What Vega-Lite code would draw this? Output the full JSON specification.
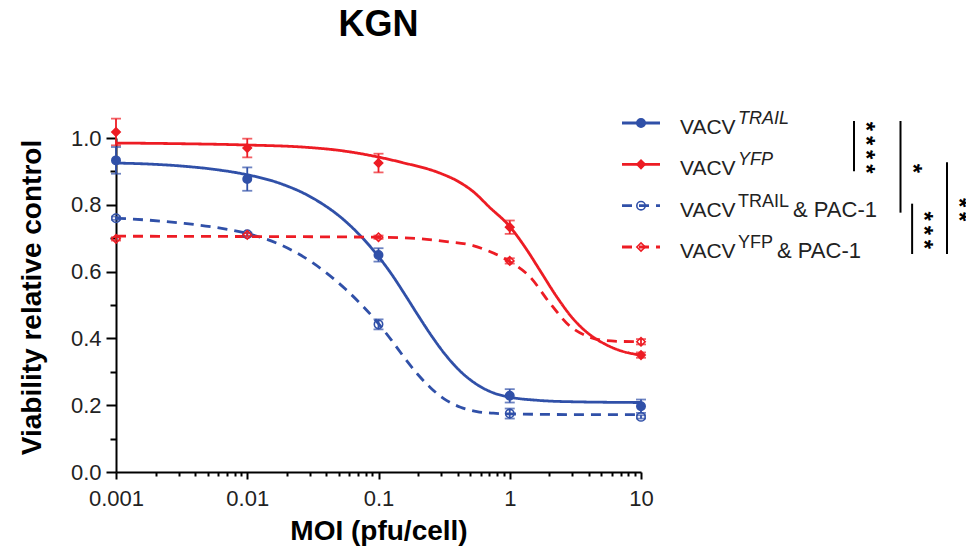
{
  "$schema": "https://vega.github.io/schema/vega-lite/v6.json",
  "width": 525,
  "height": 334,
  "autosize": {"type": "none"},
  "padding": {"left": 116, "top": 138, "right": 325, "bottom": 83},
  "background": "white",
  "title": {"text": "KGN", "fontSize": 36, "fontWeight": "bold", "color": "black", "anchor": "middle", "frame": "group", "offset": 66},
  "config": {
    "font": "Liberation Sans",
    "view": {"stroke": null},
    "legend": {"disable": true}
  },
  "datasets": {
    "points": [
      {"series": "VACV TRAIL", "moi": 0.001, "v": 0.933, "err": 0.04},
      {"series": "VACV TRAIL", "moi": 0.01, "v": 0.877, "err": 0.035},
      {"series": "VACV TRAIL", "moi": 0.1, "v": 0.650, "err": 0.02},
      {"series": "VACV TRAIL", "moi": 1, "v": 0.228, "err": 0.02},
      {"series": "VACV TRAIL", "moi": 10, "v": 0.197, "err": 0.02},
      {"series": "VACV YFP", "moi": 0.001, "v": 1.018, "err": 0.04},
      {"series": "VACV YFP", "moi": 0.01, "v": 0.970, "err": 0.028},
      {"series": "VACV YFP", "moi": 0.1, "v": 0.925, "err": 0.028},
      {"series": "VACV YFP", "moi": 1, "v": 0.733, "err": 0.02},
      {"series": "VACV YFP", "moi": 10, "v": 0.350, "err": 0.008},
      {"series": "VACV TRAIL & PAC-1", "moi": 0.001, "v": 0.760, "err": 0.005},
      {"series": "VACV TRAIL & PAC-1", "moi": 0.01, "v": 0.712, "err": 0.005},
      {"series": "VACV TRAIL & PAC-1", "moi": 0.1, "v": 0.442, "err": 0.015},
      {"series": "VACV TRAIL & PAC-1", "moi": 1, "v": 0.175, "err": 0.015},
      {"series": "VACV TRAIL & PAC-1", "moi": 10, "v": 0.165, "err": 0.005},
      {"series": "VACV YFP & PAC-1", "moi": 0.001, "v": 0.698, "err": 0.005},
      {"series": "VACV YFP & PAC-1", "moi": 0.01, "v": 0.710, "err": 0.005},
      {"series": "VACV YFP & PAC-1", "moi": 0.1, "v": 0.703, "err": 0.005},
      {"series": "VACV YFP & PAC-1", "moi": 1, "v": 0.632, "err": 0.008},
      {"series": "VACV YFP & PAC-1", "moi": 10, "v": 0.390, "err": 0.008}
    ],
    "curves": [
      {"series": "VACV TRAIL", "moi": 0.001, "v": 0.925},
      {"series": "VACV TRAIL", "moi": 0.001778, "v": 0.922},
      {"series": "VACV TRAIL", "moi": 0.003162, "v": 0.916},
      {"series": "VACV TRAIL", "moi": 0.005623, "v": 0.906},
      {"series": "VACV TRAIL", "moi": 0.01, "v": 0.890},
      {"series": "VACV TRAIL", "moi": 0.01778, "v": 0.864},
      {"series": "VACV TRAIL", "moi": 0.03162, "v": 0.820},
      {"series": "VACV TRAIL", "moi": 0.05623, "v": 0.750},
      {"series": "VACV TRAIL", "moi": 0.1, "v": 0.645},
      {"series": "VACV TRAIL", "moi": 0.1259, "v": 0.592},
      {"series": "VACV TRAIL", "moi": 0.1585, "v": 0.532},
      {"series": "VACV TRAIL", "moi": 0.1995, "v": 0.470},
      {"series": "VACV TRAIL", "moi": 0.2512, "v": 0.410},
      {"series": "VACV TRAIL", "moi": 0.3162, "v": 0.356},
      {"series": "VACV TRAIL", "moi": 0.4217, "v": 0.301},
      {"series": "VACV TRAIL", "moi": 0.5623, "v": 0.262},
      {"series": "VACV TRAIL", "moi": 0.7499, "v": 0.237},
      {"series": "VACV TRAIL", "moi": 1, "v": 0.224},
      {"series": "VACV TRAIL", "moi": 1.585, "v": 0.215},
      {"series": "VACV TRAIL", "moi": 2.512, "v": 0.211},
      {"series": "VACV TRAIL", "moi": 10, "v": 0.208},
      {"series": "VACV TRAIL & PAC-1", "moi": 0.001, "v": 0.760},
      {"series": "VACV TRAIL & PAC-1", "moi": 0.001778, "v": 0.754},
      {"series": "VACV TRAIL & PAC-1", "moi": 0.003162, "v": 0.745},
      {"series": "VACV TRAIL & PAC-1", "moi": 0.005623, "v": 0.733},
      {"series": "VACV TRAIL & PAC-1", "moi": 0.01, "v": 0.714},
      {"series": "VACV TRAIL & PAC-1", "moi": 0.01778, "v": 0.681},
      {"series": "VACV TRAIL & PAC-1", "moi": 0.03162, "v": 0.626},
      {"series": "VACV TRAIL & PAC-1", "moi": 0.05623, "v": 0.547},
      {"series": "VACV TRAIL & PAC-1", "moi": 0.1, "v": 0.444},
      {"series": "VACV TRAIL & PAC-1", "moi": 0.1259, "v": 0.394},
      {"series": "VACV TRAIL & PAC-1", "moi": 0.1585, "v": 0.341},
      {"series": "VACV TRAIL & PAC-1", "moi": 0.1995, "v": 0.292},
      {"series": "VACV TRAIL & PAC-1", "moi": 0.2512, "v": 0.251},
      {"series": "VACV TRAIL & PAC-1", "moi": 0.3162, "v": 0.219},
      {"series": "VACV TRAIL & PAC-1", "moi": 0.4217, "v": 0.194},
      {"series": "VACV TRAIL & PAC-1", "moi": 0.5623, "v": 0.181},
      {"series": "VACV TRAIL & PAC-1", "moi": 0.7499, "v": 0.176},
      {"series": "VACV TRAIL & PAC-1", "moi": 1, "v": 0.174},
      {"series": "VACV TRAIL & PAC-1", "moi": 3.162, "v": 0.172},
      {"series": "VACV TRAIL & PAC-1", "moi": 10, "v": 0.172},
      {"series": "VACV YFP", "moi": 0.001, "v": 0.985},
      {"series": "VACV YFP", "moi": 0.003, "v": 0.983},
      {"series": "VACV YFP", "moi": 0.01, "v": 0.979},
      {"series": "VACV YFP", "moi": 0.0285, "v": 0.972},
      {"series": "VACV YFP", "moi": 0.05, "v": 0.963},
      {"series": "VACV YFP", "moi": 0.0914, "v": 0.946},
      {"series": "VACV YFP", "moi": 0.15, "v": 0.927},
      {"series": "VACV YFP", "moi": 0.293, "v": 0.895},
      {"series": "VACV YFP", "moi": 0.4, "v": 0.871},
      {"series": "VACV YFP", "moi": 0.525, "v": 0.84},
      {"series": "VACV YFP", "moi": 0.7, "v": 0.793},
      {"series": "VACV YFP", "moi": 1, "v": 0.735},
      {"series": "VACV YFP", "moi": 1.34, "v": 0.667},
      {"series": "VACV YFP", "moi": 1.69, "v": 0.605},
      {"series": "VACV YFP", "moi": 2.26, "v": 0.527},
      {"series": "VACV YFP", "moi": 3.02, "v": 0.46},
      {"series": "VACV YFP", "moi": 4.05, "v": 0.412},
      {"series": "VACV YFP", "moi": 5.2, "v": 0.385},
      {"series": "VACV YFP", "moi": 7, "v": 0.363},
      {"series": "VACV YFP", "moi": 10, "v": 0.35},
      {"series": "VACV YFP & PAC-1", "moi": 0.001, "v": 0.706},
      {"series": "VACV YFP & PAC-1", "moi": 0.01, "v": 0.705},
      {"series": "VACV YFP & PAC-1", "moi": 0.1, "v": 0.703},
      {"series": "VACV YFP & PAC-1", "moi": 0.2, "v": 0.699},
      {"series": "VACV YFP & PAC-1", "moi": 0.33, "v": 0.69},
      {"series": "VACV YFP & PAC-1", "moi": 0.525, "v": 0.678},
      {"series": "VACV YFP & PAC-1", "moi": 0.664, "v": 0.664},
      {"series": "VACV YFP & PAC-1", "moi": 0.837, "v": 0.647},
      {"series": "VACV YFP & PAC-1", "moi": 1, "v": 0.630},
      {"series": "VACV YFP & PAC-1", "moi": 1.42, "v": 0.585},
      {"series": "VACV YFP & PAC-1", "moi": 2.01, "v": 0.507},
      {"series": "VACV YFP & PAC-1", "moi": 2.85, "v": 0.438},
      {"series": "VACV YFP & PAC-1", "moi": 4.05, "v": 0.404},
      {"series": "VACV YFP & PAC-1", "moi": 5.2, "v": 0.394},
      {"series": "VACV YFP & PAC-1", "moi": 7, "v": 0.391},
      {"series": "VACV YFP & PAC-1", "moi": 10, "v": 0.39}
    ],
    "legendRows": [
      {"row": 1, "series": "VACV TRAIL", "main": "VACV", "sup": "TRAIL", "suffix": ""},
      {"row": 2, "series": "VACV YFP", "main": "VACV", "sup": "YFP", "suffix": ""},
      {"row": 3, "series": "VACV TRAIL & PAC-1", "main": "VACV", "sup": "TRAIL", "suffix": "& PAC-1"},
      {"row": 4, "series": "VACV YFP & PAC-1", "main": "VACV", "sup": "YFP", "suffix": "& PAC-1"}
    ],
    "brackets": [
      {"id": "b1", "from": 1, "to": 2, "mid": 1.5, "stars": "*\u2009*\u2009*\u2009*"},
      {"id": "b2", "from": 1, "to": 3, "mid": 2, "stars": "*"},
      {"id": "b3", "from": 3, "to": 4, "mid": 3.5, "stars": "*\u2009*\u2009*"},
      {"id": "b4", "from": 2, "to": 4, "mid": 3, "stars": "*\u2009*"}
    ]
  },
  "layer": [
    {
      "encoding": {
        "x": {"field": "moi", "type": "quantitative",
          "scale": {"type": "log", "domain": [0.001, 10], "nice": false},
          "axis": {"values": [0.001, 0.01, 0.1, 1, 10], "format": "~g", "title": "MOI (pfu/cell)", "grid": false,
            "tickSize": 7, "tickWidth": 2, "tickColor": "black", "domainColor": "black", "domainWidth": 2,
            "labelFontSize": 22, "labelColor": "#222", "labelPadding": 9, "labelFlush": false, "labelOverlap": false,
            "titleFontSize": 28, "titleFontWeight": "bold", "titleColor": "black", "titlePadding": 8}},
        "y": {"field": "v", "type": "quantitative",
          "scale": {"domain": [0, 1], "nice": false},
          "axis": {"values": [0, 0.2, 0.4, 0.6, 0.8, 1], "format": ".1f", "title": "Viability relative control", "grid": false,
            "tickSize": 10, "tickWidth": 2, "tickColor": "black", "domainColor": "black", "domainWidth": 2,
            "labelFontSize": 22, "labelColor": "#222", "labelPadding": 5, "labelFlush": false, "labelOverlap": false,
            "titleFontSize": 28, "titleFontWeight": "bold", "titleColor": "black", "titlePadding": 24, "titleY": 159}}
      },
      "layer": [
        {
          "data": {"name": "curves"},
          "mark": {"type": "line", "strokeWidth": 2.8, "interpolate": "monotone"},
          "encoding": {
            "color": {"field": "series", "type": "nominal",
              "scale": {"domain": ["VACV TRAIL", "VACV YFP", "VACV TRAIL & PAC-1", "VACV YFP & PAC-1"], "range": ["#3050A8", "#ED1C24", "#3050A8", "#ED1C24"]}},
            "strokeDash": {"field": "series", "type": "nominal",
              "scale": {"domain": ["VACV TRAIL", "VACV YFP", "VACV TRAIL & PAC-1", "VACV YFP & PAC-1"], "range": [[1, 0], [1, 0], [10, 7], [10, 7]]}}
          }
        },
        {
          "data": {"name": "points"},
          "mark": {"type": "errorbar", "ticks": {"size": 10}, "thickness": 1.8},
          "encoding": {
            "yError": {"field": "err"},
            "color": {"field": "series", "type": "nominal"}
          }
        },
        {
          "data": {"name": "points"},
          "mark": {"type": "point", "size": 70, "strokeWidth": 1.6, "opacity": 1},
          "encoding": {
            "shape": {"field": "series", "type": "nominal",
              "scale": {"domain": ["VACV TRAIL", "VACV YFP", "VACV TRAIL & PAC-1", "VACV YFP & PAC-1"], "range": ["circle", "diamond", "circle", "diamond"]}},
            "stroke": {"field": "series", "type": "nominal",
              "scale": {"domain": ["VACV TRAIL", "VACV YFP", "VACV TRAIL & PAC-1", "VACV YFP & PAC-1"], "range": ["#3050A8", "#ED1C24", "#3050A8", "#ED1C24"]}},
            "fill": {"field": "series", "type": "nominal",
              "scale": {"domain": ["VACV TRAIL", "VACV YFP", "VACV TRAIL & PAC-1", "VACV YFP & PAC-1"], "range": ["#3050A8", "#ED1C24", "transparent", "transparent"]}}
          }
        }
      ]
    },
    {
      "data": {"name": "points"},
      "mark": {"type": "point", "opacity": 0},
      "encoding": {
        "x": {"field": "moi", "type": "quantitative",
          "scale": {"type": "log", "domain": [0.001, 10], "nice": false},
          "axis": {"orient": "bottom", "values": [0.002,0.003,0.004,0.005,0.006,0.007,0.008,0.009,0.02,0.03,0.04,0.05,0.06,0.07,0.08,0.09,0.2,0.3,0.4,0.5,0.6,0.7,0.8,0.9,2,3,4,5,6,7,8,9],
            "labels": false, "domain": false, "grid": false, "title": null, "tickSize": 4, "tickWidth": 2, "tickColor": "black"}},
        "y": {"field": "v", "type": "quantitative",
          "scale": {"domain": [0, 1], "nice": false},
          "axis": {"orient": "left", "values": [0.1, 0.3, 0.5, 0.7, 0.9], "labels": false, "domain": false, "grid": false, "title": null,
            "tickSize": 6, "tickWidth": 2, "tickColor": "black"}}
      }
    },
    {
      "layer": [
        {
          "data": {"name": "legendRows"},
          "mark": {"type": "rule", "strokeWidth": 2.8},
          "encoding": {
            "x": {"value": 506},
            "x2": {"value": 544},
            "y": {"field": "row", "type": "quantitative", "scale": {"domain": [1, 4], "range": [-15, 109]}, "axis": null},
            "color": {"field": "series", "type": "nominal"},
            "strokeDash": {"field": "series", "type": "nominal"}
          }
        },
        {
          "data": {"name": "legendRows"},
          "mark": {"type": "point", "size": 70, "strokeWidth": 1.6, "opacity": 1},
          "encoding": {
            "x": {"value": 525},
            "y": {"field": "row", "type": "quantitative", "axis": null},
            "shape": {"field": "series", "type": "nominal"},
            "stroke": {"field": "series", "type": "nominal"},
            "fill": {"field": "series", "type": "nominal"}
          }
        },
        {
          "data": {"name": "legendRows"},
          "mark": {"type": "text", "align": "left", "baseline": "alphabetic", "dy": 11, "fontSize": 21, "color": "#222"},
          "encoding": {
            "x": {"value": 564},
            "y": {"field": "row", "type": "quantitative", "axis": null},
            "text": {"field": "main"}
          }
        },
        {
          "data": {"name": "legendRows"},
          "transform": [{"filter": "datum.row <= 2"}],
          "mark": {"type": "text", "align": "left", "baseline": "alphabetic", "dy": 1, "fontSize": 18, "fontStyle": "italic", "color": "#222"},
          "encoding": {
            "x": {"value": 622},
            "y": {"field": "row", "type": "quantitative", "axis": null},
            "text": {"field": "sup"}
          }
        },
        {
          "data": {"name": "legendRows"},
          "transform": [{"filter": "datum.row >= 3"}],
          "mark": {"type": "text", "align": "left", "baseline": "alphabetic", "dy": 1, "fontSize": 18, "color": "#222"},
          "encoding": {
            "x": {"value": 622},
            "y": {"field": "row", "type": "quantitative", "axis": null},
            "text": {"field": "sup"}
          }
        },
        {
          "data": {"name": "legendRows"},
          "transform": [{"filter": "datum.row == 3"}],
          "mark": {"type": "text", "align": "left", "baseline": "alphabetic", "dy": 11, "fontSize": 22, "color": "#222"},
          "encoding": {
            "x": {"value": 677},
            "y": {"field": "row", "type": "quantitative", "axis": null},
            "text": {"field": "suffix"}
          }
        },
        {
          "data": {"name": "legendRows"},
          "transform": [{"filter": "datum.row == 4"}],
          "mark": {"type": "text", "align": "left", "baseline": "alphabetic", "dy": 11, "fontSize": 22, "color": "#222"},
          "encoding": {
            "x": {"value": 661},
            "y": {"field": "row", "type": "quantitative", "axis": null},
            "text": {"field": "suffix"}
          }
        },
        {
          "data": {"name": "brackets"},
          "mark": {"type": "rule", "strokeWidth": 2, "color": "black", "yOffset": -2, "y2Offset": 7},
          "encoding": {
            "x": {"field": "id", "type": "nominal",
              "scale": {"type": "point", "domain": ["b1", "g1", "g2", "g3", "b2", "b3", "g4", "g5", "b4"], "range": [738, 831], "padding": 0}, "axis": null},
            "y": {"field": "from", "type": "quantitative", "axis": null},
            "y2": {"field": "to"}
          }
        },
        {
          "data": {"name": "brackets"},
          "mark": {"type": "text", "angle": 90, "align": "center", "baseline": "middle", "fontSize": 24, "fontWeight": "bold", "color": "black", "xOffset": 11, "yOffset": 4},
          "encoding": {
            "x": {"field": "id", "type": "nominal", "axis": null},
            "y": {"field": "mid", "type": "quantitative", "axis": null},
            "text": {"field": "stars"}
          }
        }
      ]
    }
  ],
  "resolve": {"scale": {"x": "independent", "y": "independent"}}
}
